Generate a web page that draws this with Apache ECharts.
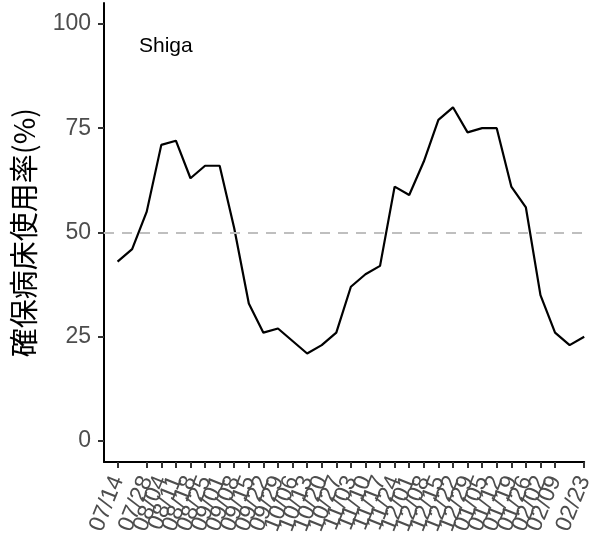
<!DOCTYPE html>
<html>
<head>
<meta charset="utf-8">
<script src="https://cdn.jsdelivr.net/npm/echarts@6/dist/echarts.min.js"></script>
<style>
  html, body { margin: 0; padding: 0; background: #fff; }
  #chart { width: 596px; height: 549px; }
</style>
</head>
<body>
<div id="chart"></div>
<script>
// 週ごとの日付ラベル
var dates = ['07/14', '07/21', '07/28', '08/04', '08/11', '08/18', '08/25', '09/01',
  '09/08', '09/15', '09/22', '09/29', '10/06', '10/13', '10/20', '10/27',
  '11/03', '11/10', '11/17', '11/24', '12/01', '12/08', '12/15', '12/22',
  '12/29', '01/05', '01/12', '01/19', '01/26', '02/02', '02/09', '02/16', '02/23'];
// 確保病床使用率(%)
var usage = [43, 46, 55, 71, 72, 63, 66, 66, 51, 33, 26, 27, 24, 21, 23, 26,
  37, 40, 42, 61, 59, 67, 77, 80, 74, 75, 75, 61, 56, 35, 26, 23, 25];
var yTicks = [0, 25, 50, 75, 100];
var refLine = 50;
var prefName = 'Shiga';

var chart = echarts.init(document.getElementById('chart'));

var points = usage.map(function (v, i) { return [i, v]; });
var tickIdx = dates.map(function (d, i) { return i; });

chart.setOption({
  animation: false,
  grid: { left: 104, right: 9, top: 3, bottom: 87 },
  xAxis: {
    type: 'value',
    min: -0.93,
    max: 32,
    splitLine: { show: false },
    axisLine: { show: true, onZero: false, lineStyle: { color: '#000', width: 2 } },
    axisTick: { show: true, length: 6, customValues: tickIdx, lineStyle: { color: '#333', width: 2 } },
    axisLabel: {
      customValues: tickIdx,
      interval: 0,
      hideOverlap: false,
      showMinLabel: true,
      showMaxLabel: true,
      rotate: 68,
      margin: 15,
      fontSize: 23,
      color: '#4d4d4d',
      fontFamily: 'Liberation Sans',
      formatter: function (v) { return dates[Math.round(v)]; }
    }
  },
  yAxis: {
    type: 'value',
    min: -5,
    max: 105,
    splitLine: { show: false },
    name: '確保病床使用率(%)',
    nameLocation: 'middle',
    nameGap: 66,
    nameTextStyle: { fontSize: 29, color: '#000', fontFamily: 'Noto Sans CJK JP' },
    axisLine: { show: true, onZero: false, lineStyle: { color: '#000', width: 2 } },
    axisTick: { show: true, length: 6, customValues: yTicks, lineStyle: { color: '#333', width: 2 } },
    axisLabel: {
      customValues: yTicks,
      margin: 13,
      fontSize: 23,
      color: '#4d4d4d',
      fontFamily: 'Liberation Sans'
    }
  },
  series: [{
    type: 'line',
    data: points,
    symbol: 'none',
    lineStyle: { color: '#000', width: 2.2 },
    markLine: {
      silent: true,
      symbol: 'none',
      label: { show: false },
      lineStyle: { color: '#bfbfbf', type: [10, 8], width: 2 },
      data: [{ yAxis: refLine }]
    }
  }],
  graphic: [{
    type: 'text',
    left: 139,
    top: 36,
    style: { text: prefName, fontSize: 21, fill: '#000', fontFamily: 'Liberation Sans' }
  }]
});
</script>
</body>
</html>
